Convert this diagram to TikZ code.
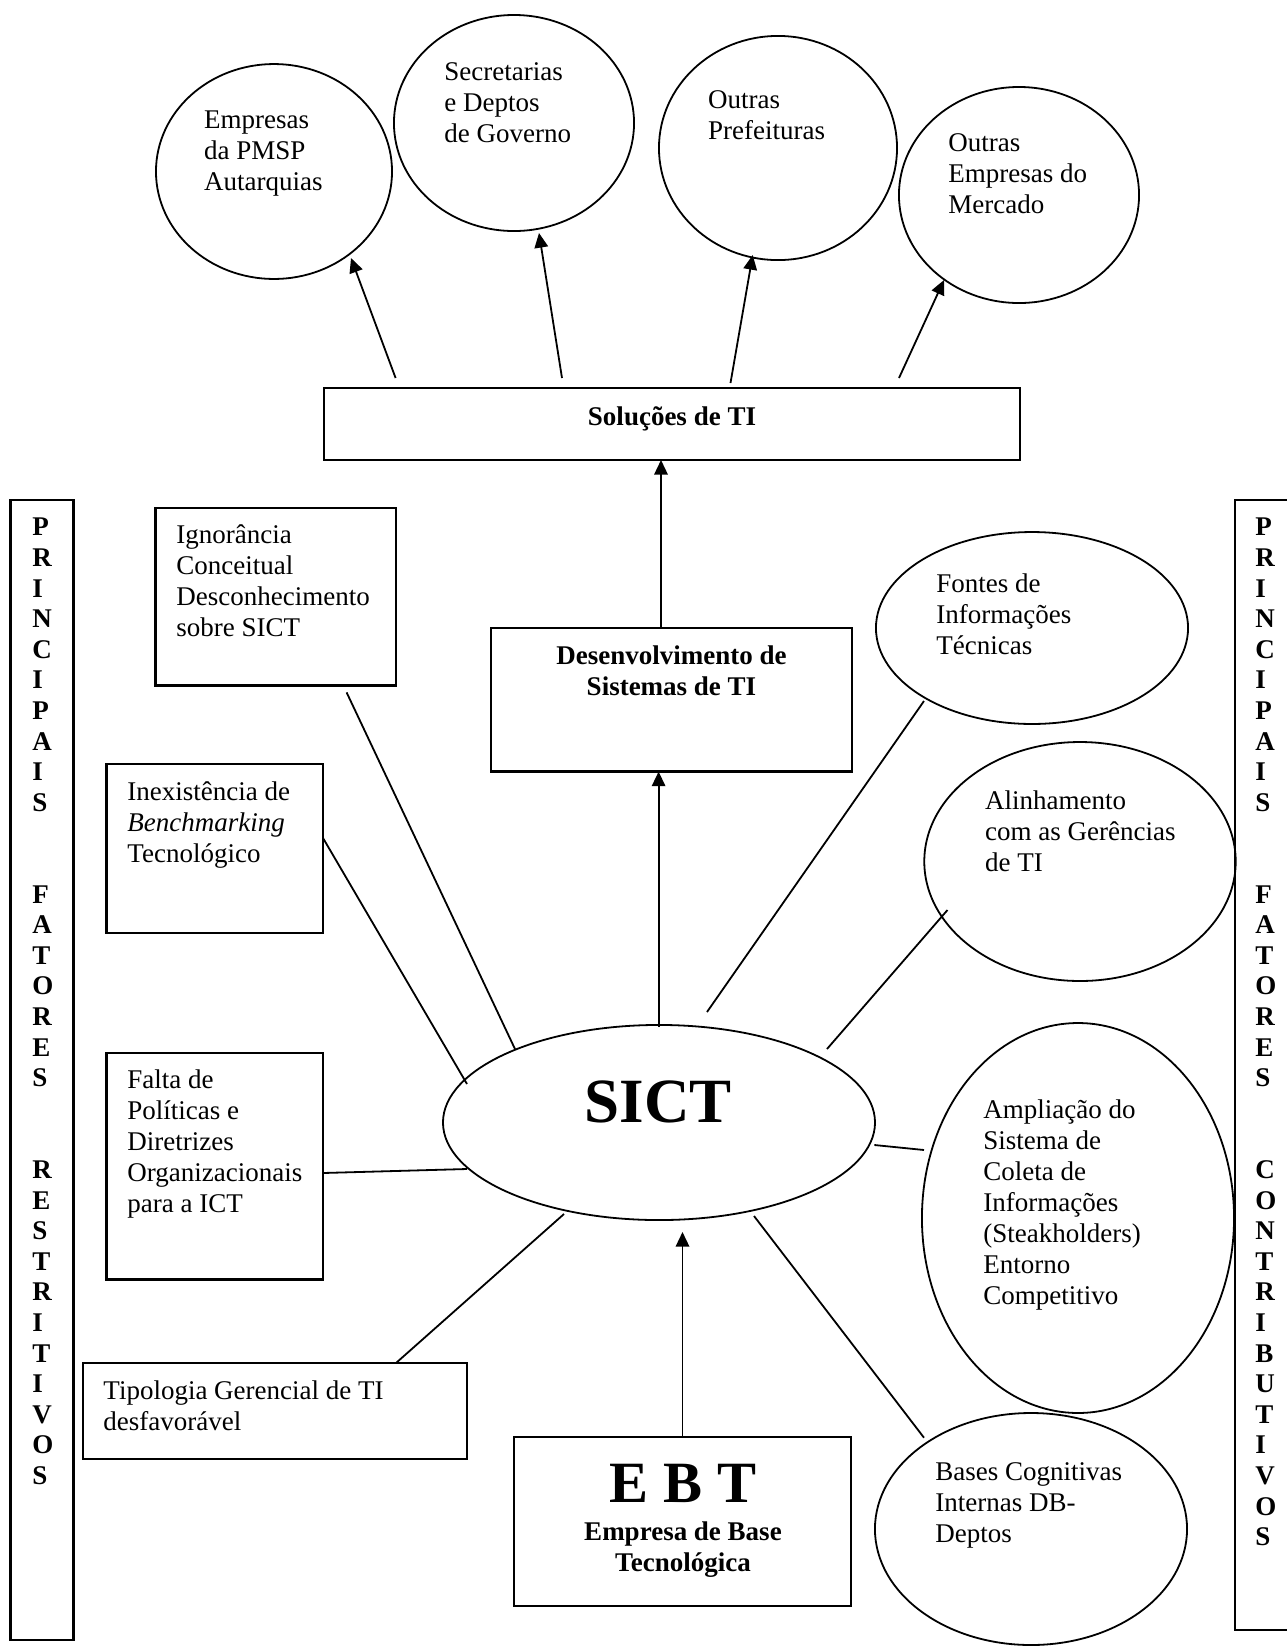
\documentclass[tikz,border=0pt]{standalone}
\usepackage{fontspec}
\setmainfont{Liberation Serif}
\usetikzlibrary{shapes.geometric,arrows.meta}
\begin{document}
\begin{tikzpicture}[x=0.4444pt,y=-0.4444pt,
  ell/.style={draw,ellipse,line width=0.8pt,inner sep=0pt},
  bx/.style={draw,rectangle,line width=1pt,inner sep=0pt},
  lbl/.style={anchor=north west,align=left,inner sep=0pt,font=\fontsize{12}{13.8}\selectfont},
  clbl/.style={anchor=north,align=center,inner sep=0pt,font=\fontsize{12}{13.8}\selectfont\bfseries},
  barlbl/.style={anchor=north west,align=left,inner sep=0pt,font=\fontsize{12}{13.6}\selectfont\bfseries},
  cnx/.style={line width=0.8pt},
  arr/.style={line width=0.8pt,-{Triangle[length=6.5pt,width=6pt]}}]
\clip (0,0) rectangle (1287,1647);
% top ellipses
\node[ell,minimum width=104.9pt,minimum height=95.5pt] (e1) at (274,171.5) {};
\node[ell,minimum width=106.7pt,minimum height=96pt] (e2) at (514,123) {};
\node[ell,minimum width=105.8pt,minimum height=99.6pt] (e3) at (778,148) {};
\node[ell,minimum width=106.7pt,minimum height=96pt] (e4) at (1019,195) {};
\node[lbl] (t1) at (203.6,106) {\strut Empresas\\da PMSP\\Autarquias};
\node[lbl] (t2) at (444,58) {\strut Secretarias\\e Deptos\\de Governo};
\node[lbl] (t3) at (707.6,86) {\strut Outras\\Prefeituras};
\node[lbl] (t4) at (948,129) {\strut Outras\\Empresas do\\Mercado};
% boxes
\node[bx,minimum width=309.3pt,minimum height=32pt] (sol) at (672,424) {};
\node[clbl] (tsol) at (672,403) {\strut Soluções de TI};
\node[bx,minimum width=160.4pt,minimum height=63.8pt] (des) at (671.5,699.8) {};
\node[clbl] (tdes) at (671.5,642) {\strut Desenvolvimento de\\Sistemas de TI};
\node[bx,minimum width=106.9pt,minimum height=78.9pt] (ign) at (275.75,596.75) {};
\node[lbl] (tign) at (176,521) {\strut Ignorância\\Conceitual\\Desconhecimento\\sobre SICT};
\node[bx,minimum width=96.2pt,minimum height=75.1pt] (inex) at (214.75,848.5) {};
\node[lbl] (tinex) at (127,778) {\strut Inexistência de\\\textit{Benchmarking}\\Tecnológico};
\node[bx,minimum width=96.2pt,minimum height=100.7pt] (fal) at (214.75,1166.3) {};
\node[lbl] (tfal) at (127,1066) {\strut Falta de\\Políticas e\\Diretrizes\\Organizacionais\\para a ICT};
\node[bx,minimum width=170.7pt,minimum height=42.7pt] (tip) at (275,1411) {};
\node[lbl] (ttip) at (103,1377) {\strut Tipologia Gerencial de TI\\desfavorável};
\node[bx,minimum width=149.8pt,minimum height=75.1pt] (ebt) at (682.5,1521.5) {};
\node[inner sep=0pt,font=\fontsize{26}{30}\selectfont\bfseries] (tebt) at (683,1483) {E B T};
\node[clbl] (tebt2) at (683,1518) {\strut Empresa de Base\\Tecnológica};
% side bars
\node[bx,minimum width=28pt,minimum height=506.6pt] (lbar) at (41.9,1070) {};
\node[barlbl] (tlbar) at (32,514) {\strut P\\R\\I\\N\\C\\I\\P\\A\\I\\S\\~\\~\\F\\A\\T\\O\\R\\E\\S\\~\\~\\R\\E\\S\\T\\R\\I\\T\\I\\V\\O\\S};
\node[bx,minimum width=28.9pt,minimum height=502.2pt] (rbar) at (1267.5,1065) {};
\node[barlbl] (trbar) at (1255,514) {\strut P\\R\\I\\N\\C\\I\\P\\A\\I\\S\\~\\~\\F\\A\\T\\O\\R\\E\\S\\~\\~\\C\\O\\N\\T\\R\\I\\B\\U\\T\\I\\V\\O\\S};
% SICT and right ellipses
\node[ell,minimum width=192pt,minimum height=86.7pt] (sict) at (659,1122.5) {};
\node[inner sep=0pt,font=\fontsize{28}{32}\selectfont\bfseries] (tsict) at (658,1102) {SICT};
\node[ell,minimum width=138.7pt,minimum height=85.3pt] (fon) at (1032,628) {};
\node[lbl] (tfon) at (936,570) {\strut Fontes de\\Informações\\Técnicas};
\node[ell,minimum width=138.4pt,minimum height=106.2pt] (ali) at (1080,861.5) {};
\node[lbl] (tali) at (984.6,787) {\strut Alinhamento\\com as Gerências\\de TI};
\node[ell,minimum width=138.7pt,minimum height=173.3pt] (amp) at (1078,1218) {};
\node[lbl] (tamp) at (983,1096) {\strut Ampliação do\\Sistema de\\Coleta de\\Informações\\(Steakholders)\\Entorno\\Competitivo};
\node[ell,minimum width=138.7pt,minimum height=103.1pt] (bas) at (1031,1529) {};
\node[lbl] (tbas) at (935,1458) {\strut Bases Cognitivas\\Internas DB-\\Deptos};
% connector end points
\coordinate (a1s) at (395.6,378); \coordinate (a1e) at (351,258);
\coordinate (a2s) at (562,378);   \coordinate (a2e) at (539,233);
\coordinate (a3s) at (730.5,383); \coordinate (a3e) at (752.7,255);
\coordinate (a4s) at (899,378);   \coordinate (a4e) at (944,280);
\coordinate (ds) at (661,628);    \coordinate (de) at (661,460);
\coordinate (ss) at (658.6,1027); \coordinate (se) at (658.6,771.6);
\coordinate (es) at (682.5,1437); \coordinate (ee) at (682.5,1232);
\coordinate (ign1) at (346.6,692.4); \coordinate (ign2) at (515,1049);
\coordinate (inx1) at (323,838);    \coordinate (inx2) at (467,1084);
\coordinate (fal1) at (323,1173);   \coordinate (fal2) at (467,1169);
\coordinate (tip1) at (396,1363);   \coordinate (tip2) at (564,1214);
\coordinate (fon1) at (924,701);    \coordinate (fon2) at (707,1012);
\coordinate (ali1) at (947.5,910);  \coordinate (ali2) at (827,1049);
\coordinate (amp1) at (924,1150);   \coordinate (amp2) at (874.4,1145);
\coordinate (bas1) at (924,1437.7); \coordinate (bas2) at (754,1216);
% arrows
\draw[arr] (a1s) -- (a1e);
\draw[arr] (a2s) -- (a2e);
\draw[arr] (a3s) -- (a3e);
\draw[arr] (a4s) -- (a4e);
\draw[arr] (ds) -- (de);
\draw[arr] (ss) -- (se);
\draw[arr] (es) -- (ee);
% plain lines
\draw[cnx] (ign1) -- (ign2);
\draw[cnx] (inx1) -- (inx2);
\draw[cnx] (fal1) -- (fal2);
\draw[cnx] (tip1) -- (tip2);
\draw[cnx] (fon1) -- (fon2);
\draw[cnx] (ali1) -- (ali2);
\draw[cnx] (amp1) -- (amp2);
\draw[cnx] (bas1) -- (bas2);
\end{tikzpicture}
\end{document}
